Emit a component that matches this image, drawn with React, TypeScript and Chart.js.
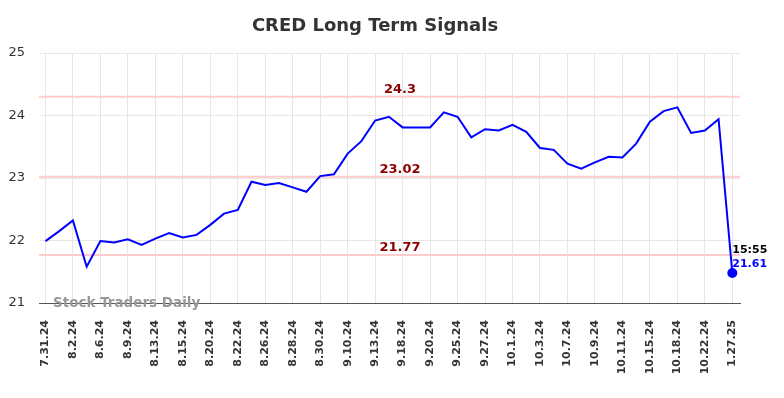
import React, { useEffect, useRef } from "react";
import { Chart, registerables } from "chart.js";

Chart.register(...registerables);

const tickLabels = [
  "7.31.24", "8.2.24", "8.6.24", "8.9.24", "8.13.24", "8.15.24", "8.20.24", "8.22.24",
  "8.26.24", "8.28.24", "8.30.24", "9.10.24", "9.13.24", "9.18.24", "9.20.24", "9.25.24",
  "9.27.24", "10.1.24", "10.3.24", "10.7.24", "10.9.24", "10.11.24", "10.15.24", "10.18.24",
  "10.22.24", "1.27.25",
];

const prices = [
  21.99, 22.15, 22.32, 21.58, 21.99, 21.97, 22.02, 21.93, 22.03, 22.12,
  22.05, 22.09, 22.25, 22.43, 22.49, 22.94, 22.89, 22.92, 22.85, 22.78,
  23.03, 23.06, 23.39, 23.59, 23.92, 23.98, 23.81, 23.81, 23.81, 24.05,
  23.98, 23.65, 23.78, 23.76, 23.85, 23.74, 23.48, 23.45, 23.23, 23.15,
  23.25, 23.34, 23.33, 23.55, 23.90, 24.07, 24.13, 23.72, 23.76, 23.94,
  21.48,
];

const signalLevels = [24.3, 23.02, 21.77];
const signalTexts = ["24.3", "23.02", "21.77"];
const lastTime = "15:55";
const lastPriceText = "21.61";
const titleText = "CRED Long Term Signals";
const watermark = "Stock Traders Daily";

const FONT = "'DejaVu Sans', sans-serif";

const overlayPlugin = {
  id: "overlay",
  beforeDatasetsDraw(chart: any) {
    const { ctx, chartArea, scales } = chart;
    ctx.save();
    ctx.strokeStyle = "#ffcccc";
    ctx.lineWidth = 2;
    signalLevels.forEach((lv) => {
      const y = scales.y.getPixelForValue(lv);
      ctx.beginPath();
      ctx.moveTo(chartArea.left, y);
      ctx.lineTo(chartArea.right, y);
      ctx.stroke();
    });
    ctx.restore();
  },
  afterDraw(chart: any) {
    const { ctx, chartArea, scales } = chart;
    ctx.save();
    // title
    ctx.fillStyle = "#333333";
    ctx.font = `bold 18px ${FONT}`;
    ctx.textAlign = "center";
    ctx.textBaseline = "middle";
    ctx.fillText(titleText, 375, 26);
    // signal labels
    ctx.fillStyle = "#8b0000";
    ctx.font = `bold 13px ${FONT}`;
    ctx.textBaseline = "bottom";
    signalLevels.forEach((lv, i) => {
      const y = scales.y.getPixelForValue(lv);
      ctx.fillText(signalTexts[i], 400, y - 1);
    });
    // watermark
    ctx.fillStyle = "#999999";
    ctx.font = `bold 13.5px ${FONT}`;
    ctx.textAlign = "left";
    ctx.textBaseline = "middle";
    ctx.fillText(watermark, 53, chartArea.bottom);
    // last label
    const lastIdx = prices.length - 1;
    const lx = scales.x.getPixelForValue(lastIdx);
    ctx.font = `bold 11px ${FONT}`;
    ctx.fillStyle = "#000000";
    ctx.fillText(lastTime, lx, 250);
    ctx.fillStyle = "#0000ff";
    ctx.fillText(lastPriceText, lx, 264);
    ctx.restore();
  },
};

export default function App() {
  const ref = useRef<HTMLCanvasElement>(null);
  useEffect(() => {
    const data = prices.map((v, i) => ({ x: i, y: v }));
    const chart = new Chart(ref.current as HTMLCanvasElement, {
      type: "line",
      data: {
        datasets: [
          {
            data,
            borderColor: "#0000ff",
            backgroundColor: "#0000ff",
            borderWidth: 2,
            tension: 0,
            pointRadius: prices.map((_, i) => (i === prices.length - 1 ? 4 : 0)),
            pointHoverRadius: 0,
          },
        ],
      },
      options: {
        animation: false,
        responsive: false,
        maintainAspectRatio: false,
        layout: { padding: { top: 53, right: 44, bottom: 0, left: 0 } },
        plugins: {
          legend: { display: false },
          title: { display: false },
          tooltip: { enabled: false },
        },
        scales: {
          x: {
            type: "linear",
            min: -0.47,
            max: 50.56,
            afterBuildTicks(scale: any) {
              scale.ticks = tickLabels.map((_, i) => ({ value: i * 2 }));
            },
            afterFit(scale: any) {
              scale.height = 95;
            },
            grid: { color: "#e6e6e6", drawTicks: false, lineWidth: 1 },
            border: { display: true, color: "#555555", width: 1 },
            ticks: {
              autoSkip: false,
              minRotation: 90,
              maxRotation: 90,
              padding: 17,
              color: "#333333",
              font: { family: FONT, size: 11, weight: "bold" },
              callback: (v: any) => tickLabels[Math.round(v / 2)] ?? "",
            },
          },
          y: {
            min: 21,
            max: 25,
            afterFit(scale: any) {
              scale.width = 39;
            },
            grid: { color: "#e6e6e6", drawTicks: false, lineWidth: 1 },
            border: { display: false },
            ticks: {
              stepSize: 1,
              padding: 14,
              color: "#333333",
              font: { family: FONT, size: 13 },
            },
          },
        },
      },
      plugins: [overlayPlugin],
    } as any);
    return () => chart.destroy();
  }, []);
  return (
    <div style={{ position: "fixed", left: 0, top: 0, width: 784, height: 398, background: "#fff" }}>
      <canvas ref={ref} width={784} height={398} style={{ width: 784, height: 398 }} />
    </div>
  );
}
